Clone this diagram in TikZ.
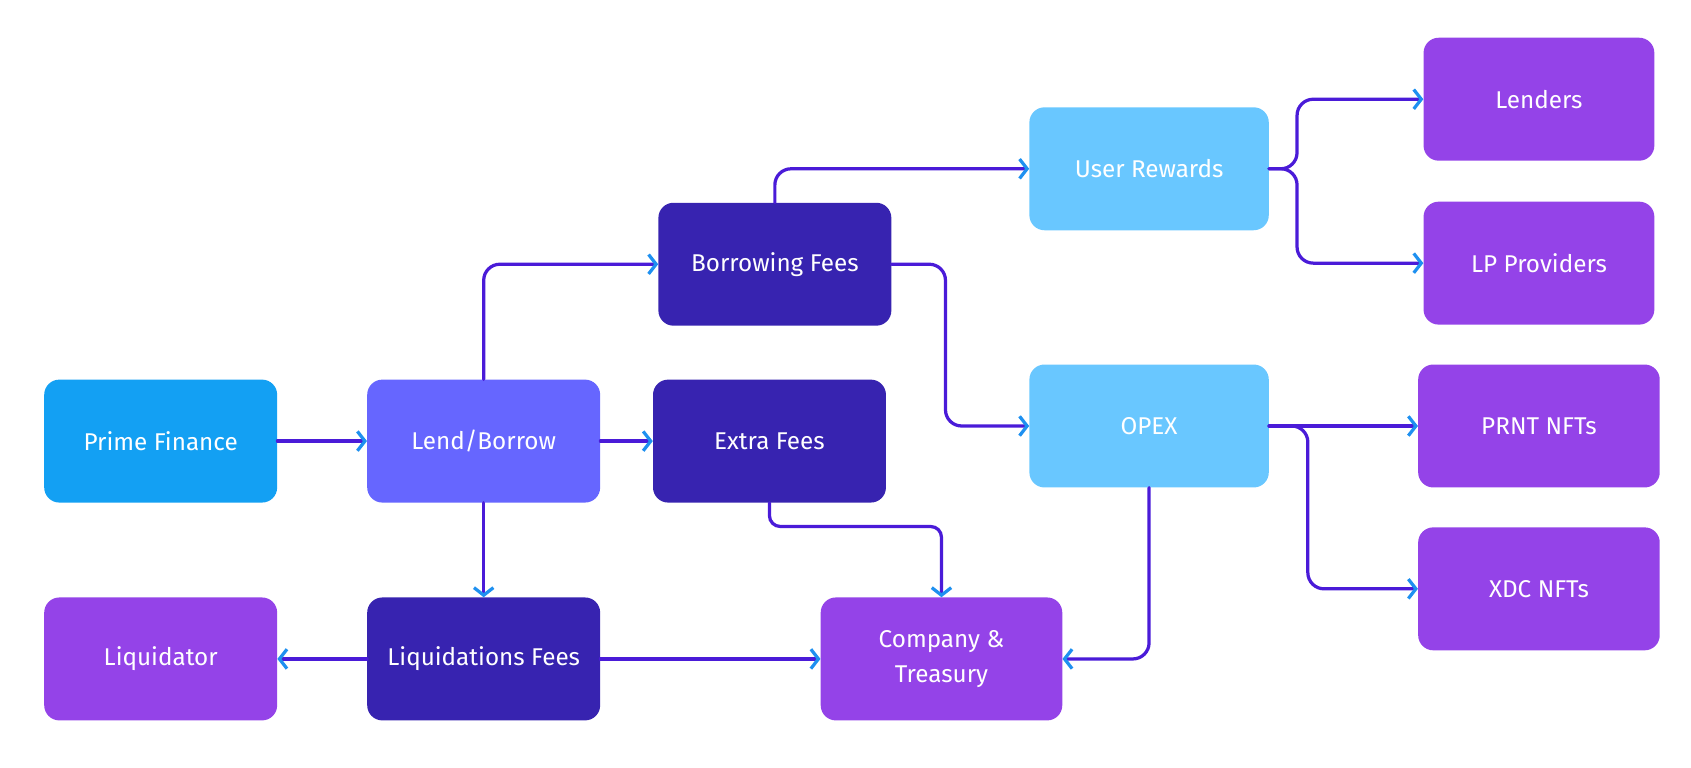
\documentclass[tikz,border=0pt]{standalone}
\usepackage{fontspec}
\setmainfont{Fira Sans}
\usetikzlibrary{arrows.meta}
\definecolor{cblue}{HTML}{13A0F3}
\definecolor{cviolet}{HTML}{6666FF}
\definecolor{cnavy}{HTML}{3723B0}
\definecolor{csky}{HTML}{69C7FF}
\definecolor{cpurple}{HTML}{9443E8}
\definecolor{cline}{HTML}{4A1BD8}
\definecolor{ctip}{HTML}{1E90F0}
\tikzset{
  box/.style={rounded corners=14pt, minimum width=216pt, minimum height=114pt,
    text=white, align=center, inner sep=0pt, font=\fontsize{22.5}{33}\selectfont},
  wbox/.style={box, minimum width=222pt},
  conn/.style={draw=cline, line width=3pt, rounded corners=15pt, line cap=round,
    -{Straight Barb[length=7pt,width=18pt,color=ctip]}},
}
\begin{document}
\begin{tikzpicture}[x=1pt,y=-1pt]
\useasboundingbox (0,0) rectangle (1568,712);
\node[box, fill=cblue] (pf) at (149,409) {Prime Finance};
\node[box, fill=cviolet] (lb) at (448.5,409) {Lend/Borrow};
\node[box, fill=cnavy] (ef) at (713.5,409) {Extra Fees};
\node[box, fill=cnavy] (bf) at (718.5,245) {Borrowing Fees};
\node[wbox, fill=csky] (ur) at (1065.5,156.5) {User Rewards};
\node[wbox, fill=csky] (op) at (1065.5,395) {OPEX};
\node[box, fill=cpurple, minimum width=214pt] (ld) at (1427,92) {Lenders};
\node[box, fill=cpurple, minimum width=214pt] (lp) at (1427,244) {LP Providers};
\node[box, fill=cpurple, minimum width=224pt] (pr) at (1427,395) {PRNT NFTs};
\node[box, fill=cpurple, minimum width=224pt] (xd) at (1427,546) {XDC NFTs};
\node[box, fill=cpurple] (lq) at (149,611) {Liquidator};
\node[box, fill=cnavy] (lf) at (448.5,611) {Liquidations Fees};
\node[box, fill=cpurple, minimum width=224pt] (ct) at (873,611) {Company \&\\Treasury};

\draw[conn] (pf.east) -- (lb.west);
\draw[conn] (lb.east) -- (ef.west);
\draw[conn] (lb.north) |- (bf.west);
\draw[conn] (lb.south) -- (lf.north);
\draw[conn] (lf.west) -- (lq.east);
\draw[conn] (lf.east) -- (ct.west);
\draw[conn, rounded corners=10pt] (ef.south) -- ++(0,22) -| (ct.north);
\draw[conn] (bf.north) |- (ur.west);
\draw[conn] (bf.east) -- ++(50,0) |- (op.west);
\draw[conn] (op.south) |- (ct.east);
\draw[conn] (ur.east) -- ++(26,0) |- (ld.west);
\draw[conn] (ur.east) -- ++(26,0) |- (lp.west);
\draw[conn] (op.east) -- (pr.west);
\draw[conn] (op.east) -- ++(36,0) |- (xd.west);
\end{tikzpicture}
\end{document}
